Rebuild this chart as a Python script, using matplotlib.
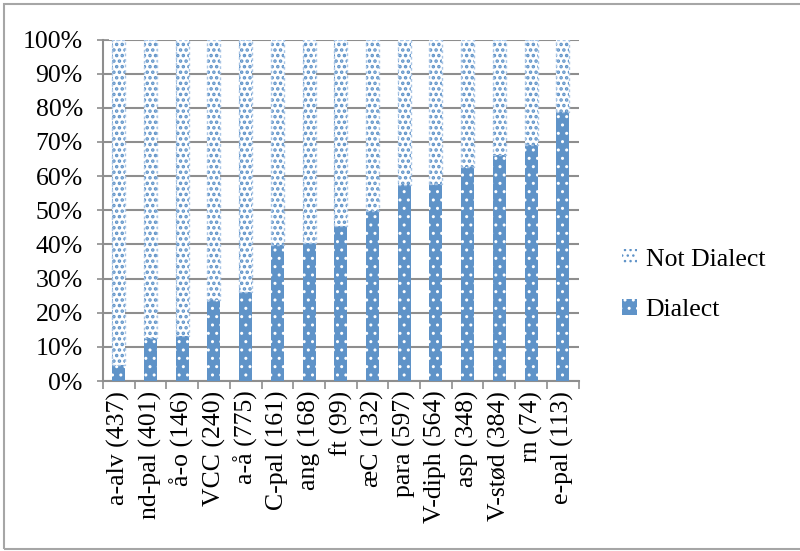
import matplotlib
matplotlib.use("Agg")
import matplotlib.pyplot as plt
from matplotlib.patches import Rectangle, Patch
import numpy as np

# Feature labels with token counts, sorted by share of dialect realisations
categories = ["a-alv (437)", "nd-pal (401)", "å-o (146)", "VCC (240)", "a-å (775)",
              "C-pal (161)", "ang (168)", "ft (99)", "æC (132)", "para (597)",
              "V-diph (564)", "asp (348)", "V-stød (384)", "rn (74)", "e-pal (113)"]
dialect = [4.6, 12.6, 13.1, 23.6, 26.0, 39.7, 40.5, 45.3, 49.9, 57.3,
           57.6, 62.6, 66.2, 69.1, 78.7]
not_dialect = [100 - d for d in dialect]
yticks = list(range(0, 101, 10))
ytick_labels = [f"{t}%" for t in yticks]

blue = "#5f93c8"
light_blue = "#a9c5e5"
grid_gray = "#8e8e8e"
FS = 18.5

plt.rcParams["font.family"] = ["Liberation Serif", "DejaVu Serif"]

fig = plt.figure(figsize=(8.0, 5.51), dpi=100)
ax = fig.add_axes([0.12875, 0.3085, 0.5945, 0.6198])

x = np.arange(len(categories))
w = 0.41

# Dialect: solid blue with small white dots
with plt.rc_context({"hatch.linewidth": 1.0}):
    ax.bar(x, dialect, width=w, color=blue, edgecolor="white", linewidth=0,
           hatch="..", zorder=3)
    dial_handle = Patch(facecolor=blue, edgecolor="white", linewidth=0, hatch="..")
# Not dialect: white with dense blue dots and a light dotted outline
with plt.rc_context({"hatch.linewidth": 1.7}):
    ax.bar(x, not_dialect, bottom=dialect, width=w, color="white", edgecolor=blue,
           linewidth=0, hatch="...", zorder=3)
    not_handle = Patch(facecolor="white", edgecolor=blue, linewidth=0, hatch="...")
ax.bar(x, not_dialect, bottom=dialect, width=w, fill=False, edgecolor=light_blue,
       linewidth=1.0, linestyle=(0, (2, 2)), zorder=4)

ax.set_xlim(-0.5, len(categories) - 0.5)
ax.set_ylim(0, 100)
ax.set_yticks(yticks)
ax.set_yticklabels(ytick_labels, fontsize=FS)
ax.set_xticks(x)
ax.set_xticklabels(categories, rotation=90, fontsize=FS)
ax.tick_params(axis="x", which="major", length=0, pad=7)
ax.set_xticks(np.arange(-0.5, len(categories), 1.0), minor=True)
ax.tick_params(axis="x", which="minor", length=6, width=1.2, color=grid_gray, direction="out")
ax.tick_params(axis="y", length=9, width=1.2, color=grid_gray, direction="inout", pad=10)

ax.yaxis.grid(True, color=grid_gray, linewidth=1.5, zorder=0)
ax.set_axisbelow(True)
for side in ("top", "right"):
    ax.spines[side].set_visible(False)
for side in ("left", "bottom"):
    ax.spines[side].set_color(grid_gray)
    ax.spines[side].set_linewidth(1.5)

fig.legend([not_handle, dial_handle], ["Not Dialect", "Dialect"], loc="center left",
           bbox_to_anchor=(0.762, 0.483), frameon=False, fontsize=FS,
           handlelength=0.55, handleheight=0.55, handletextpad=0.35,
           labelspacing=1.1, borderpad=0)

# Chart frame
fig.patches.append(Rectangle((3.5 / 800, 2.5 / 551), 1.0, 544.5 / 551,
                             transform=fig.transFigure, fill=False,
                             edgecolor="#a6a6a6", linewidth=1.5))

fig.savefig("out.png", dpi=100)
